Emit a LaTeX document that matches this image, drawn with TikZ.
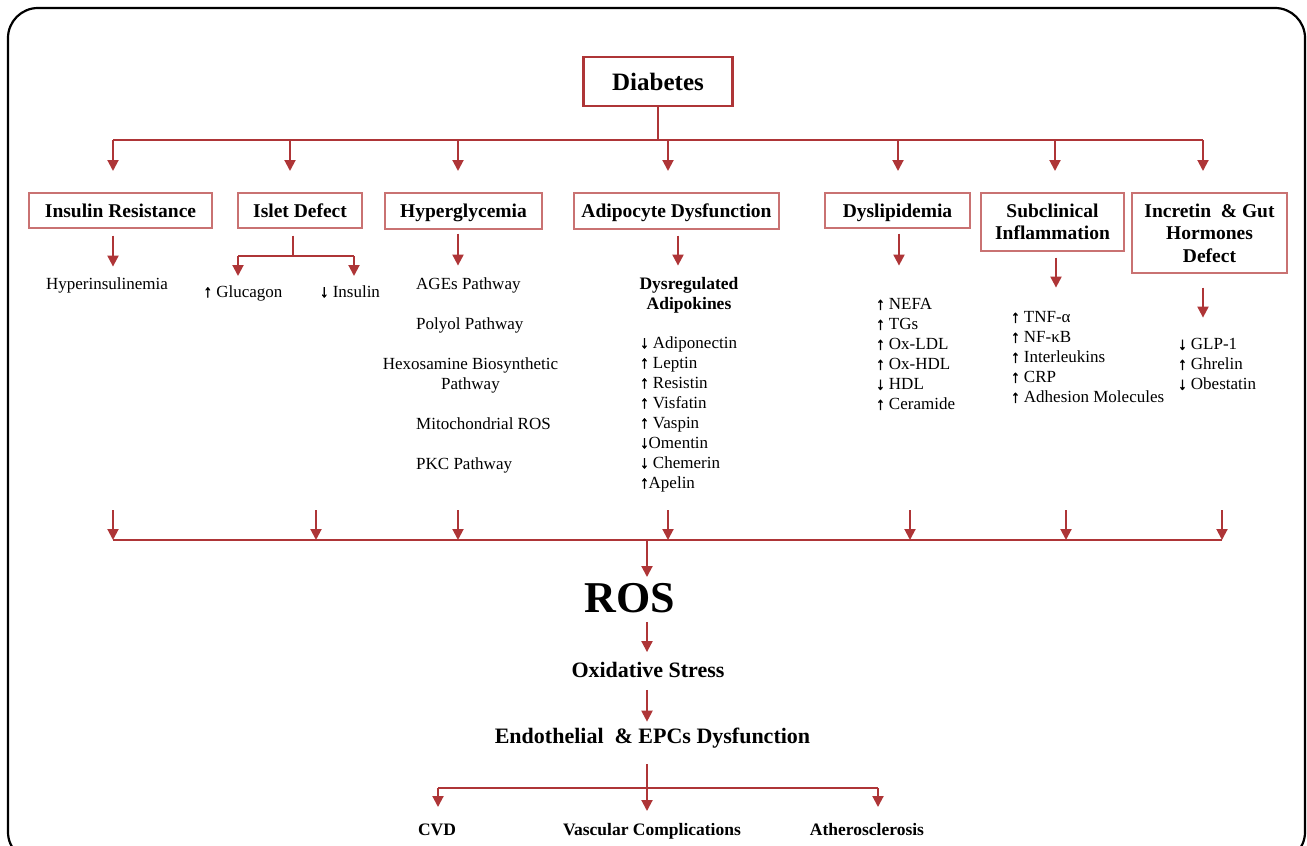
\documentclass[tikz,border=0pt]{standalone}
\usepackage{fontspec}
\setmainfont{Liberation Serif}
\newfontfamily\arrowfont[FakeBold=2.5]{Liberation Sans}
\usetikzlibrary{arrows.meta,positioning}
\definecolor{DiaRed}{HTML}{AE3537}
\definecolor{DiaRose}{HTML}{C97272}
\newcommand{\incr}{{\arrowfont ↑}}
\newcommand{\decr}{{\arrowfont ↓}}

\begin{document}
\begin{tikzpicture}[x=1pt,y=-1pt,
    >={Triangle[length=11pt,width=11pt]},
    link/.style={draw=DiaRed,line width=2pt},
    flow/.style={->,draw=DiaRed,line width=2pt},
    topbox/.style={draw=DiaRed,line width=2.6pt,inner sep=0pt,
      minimum width=149pt,minimum height=49pt,
      font=\fontsize{25}{28}\selectfont\bfseries},
    catbox/.style={draw=DiaRose,line width=1.2pt,inner sep=0pt,
      text height=13pt,text depth=0pt,
      font=\fontsize{19.5}{22.5}\selectfont\bfseries},
    widebox/.style={draw=DiaRose,line width=1.2pt,inner sep=0pt,align=center,
      font=\fontsize{19.5}{22.5}\selectfont\bfseries},
    item/.style={inner sep=0pt,text height=11.5pt,text depth=3.5pt,
      font=\fontsize{17}{20}\selectfont},
    list/.style={inner sep=0pt,align=left,anchor=north west,
      font=\fontsize{17}{20}\selectfont},
    stage/.style={inner sep=0pt,font=\fontsize{22}{26}\selectfont\bfseries},
    outcome/.style={inner sep=0pt,text height=12pt,text depth=3.5pt,
      font=\fontsize{17.5}{20}\selectfont\bfseries}
  ]
  \path[use as bounding box] (0,0) rectangle (1307,846);
  \begin{scope}
    \clip (0,0) rectangle (1307,846);
    \draw[black,line width=2.2pt,rounded corners=30pt] (8,8) rectangle (1305,862);
  \end{scope}

  % top of the tree
  \node[topbox] (diab) at (658,81.5) {Diabetes};
  \coordinate (hub) at (658,140);
  \draw[link] (diab.south) -- (hub);
  \foreach \x [count=\i] in {113,290,458,668,898,1055,1203}
    \coordinate (tap\i) at (\x,140);
  \draw[link] (tap1) -- (tap7);
  \foreach \i in {1,...,7}
    \draw[flow] (tap\i) -- ++(0,31);

  % the seven disorders
  \node[catbox,minimum width=183pt,minimum height=35pt] (insres) at (120.5,210.5) {Insulin Resistance};
  \node[catbox,minimum width=124pt,minimum height=35pt] (islet) at (300,210.5) {Islet Defect};
  \node[catbox,minimum width=157pt,minimum height=36pt] (hyper) at (463.5,211) {Hyperglycemia};
  \node[catbox,minimum width=205pt,minimum height=36pt] (adipo) at (676.5,211) {Adipocyte Dysfunction};
  \node[catbox,minimum width=145pt,minimum height=35pt] (dyslip) at (897.5,210.5) {Dyslipidemia};
  \node[widebox,minimum width=143pt,minimum height=58pt] (subinf) at (1052.5,222) {Subclinical\\Inflammation};
  \node[widebox,minimum width=155pt,minimum height=80pt] (incret) at (1209.5,233) {Incretin~ \& Gut\\Hormones\\Defect};

  \draw[flow] ([xshift=-7.5pt,yshift=-7pt]insres.south) -- ++(0,31);
  \draw[flow] ([xshift=-5.5pt,yshift=-4pt]hyper.south) -- ++(0,32);
  \draw[flow] ([xshift=1.5pt,yshift=-6pt]adipo.south) -- ++(0,30);
  \draw[flow] ([xshift=1.5pt,yshift=-5pt]dyslip.south) -- ++(0,32);
  \draw[flow] ([xshift=3.5pt,yshift=-6pt]subinf.south) -- ++(0,30);
  \draw[flow] ([xshift=-6.5pt,yshift=-14pt]incret.south) -- ++(0,30);

  % islet fork
  \coordinate (isfork) at (293,256);
  \coordinate (isL) at (238,256);
  \coordinate (isR) at (354,256);
  \draw[link] ([xshift=-7pt,yshift=-7pt]islet.south) -- (isfork);
  \draw[link] (isL) -- (isR);
  \draw[flow] (isL) -- ++(0,20);
  \draw[flow] (isR) -- ++(0,20);

  % consequences
  \node[item] (hyperins) at (107,285) {Hyperinsulinemia};
  \node[item] (glucagon) at (243,293) {\incr\ Glucagon};
  \node[item] (insulin) at (350,293) {\decr\ Insulin};

  \node[item,anchor=west] (ages) at (416,285) {AGEs Pathway};
  \node[item,anchor=west] (polyol) at (416,325) {Polyol Pathway};
  \node[inner sep=0pt,align=center,font=\fontsize{17}{20}\selectfont] (hexos) at (470.5,375) {Hexosamine Biosynthetic\\Pathway};
  \node[item,anchor=west] (mito) at (416,425) {Mitochondrial ROS};
  \node[item,anchor=west] (pkc) at (416,465) {PKC Pathway};

  \node[inner sep=0pt,align=center,font=\fontsize{17.5}{20}\selectfont\bfseries] (dysreg) at (689,295) {Dysregulated\\Adipokines};
  \node[list] (adikines) at (640,336) {\decr\ Adiponectin\\\incr\ Leptin\\\incr\ Resistin\\\incr\ Visfatin\\\incr\ Vaspin\\\decr Omentin\\\decr\ Chemerin\\\incr Apelin};
  \node[list] (lipids) at (876,298) {\incr\ NEFA\\\incr\ TGs\\\incr\ Ox-LDL\\\incr\ Ox-HDL\\\decr\ HDL\\\incr\ Ceramide};
  \node[list] (inflam) at (1011,311) {\incr\ TNF-α\\\incr\ NF-κB\\\incr\ Interleukins\\\incr\ CRP\\\incr\ Adhesion Molecules};
  \node[list] (gutlist) at (1178,338) {\decr\ GLP-1\\\incr\ Ghrelin\\\decr\ Obestatin};

  % collecting bus
  \foreach \x [count=\i] in {113,316,458,668,910,1066,1222}
    \coordinate (src\i) at (\x,510);
  \coordinate (rosin) at (647,540);
  \draw[link] (src1 |- rosin) -- (src7 |- rosin);
  \foreach \i in {1,...,7}
    \draw[flow] (src\i) -- ++(0,30);

  \node[inner sep=0pt,font=\fontsize{44}{48}\selectfont\bfseries] (ros) at (630,598) {ROS};
  \node[stage] (oxstr) at (648,670) {Oxidative Stress};
  \node[stage] (endo) at (652.5,738) {Endothelial~ \& EPCs Dysfunction};
  \draw[flow] (rosin) -- ++(0,37);
  \draw[flow,shorten <=9pt,shorten >=10pt] (ros.south -| rosin) -- (oxstr.north -| rosin);
  \draw[flow,shorten <=12pt,shorten >=6pt] (oxstr.south -| rosin) -- (endo.north -| rosin);

  % outcomes
  \coordinate (endfork) at (647,788);
  \coordinate (cvdtap) at (438,788);
  \coordinate (athtap) at (878,788);
  \draw[link,shorten <=16pt] (endo.south -| endfork) -- (endfork);
  \draw[link] (cvdtap) -- (athtap);
  \draw[flow] (endfork) -- ++(0,23);
  \draw[flow] (cvdtap) -- ++(0,19);
  \draw[flow] (athtap) -- ++(0,19);
  \node[outcome] (cvd) at (437,831) {CVD};
  \node[outcome] (vasc) at (652,831) {Vascular Complications};
  \node[outcome] (athero) at (867,831) {Atherosclerosis};
\end{tikzpicture}
\end{document}
